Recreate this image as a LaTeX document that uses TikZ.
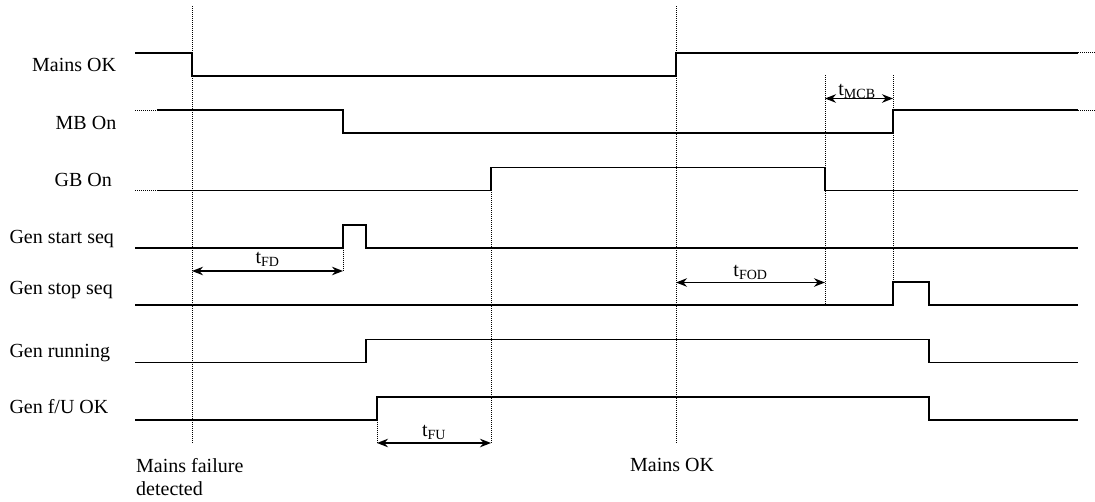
\documentclass[tikz,border=0pt]{standalone}
\usepackage{fontspec}
\setmainfont{Liberation Serif}
\usetikzlibrary{arrows.meta}

\tikzset{
  sig/.style={line width=1.6pt, line join=miter},
  tline/.style={line width=0.9pt, dash pattern=on 1pt off 1pt},
  dim/.style={{Stealth[length=11pt,width=8.5pt]}-{Stealth[length=11pt,width=8.5pt]}, line width=1.5pt},
  lbl/.style={anchor=base west, inner sep=0pt},
  tlbl/.style={inner sep=0pt, anchor=south},
}

\begin{document}
\begin{tikzpicture}[x=1pt,y=-1pt,font=\fontsize{20}{23}\selectfont]
\useasboundingbox (0,0) rectangle (1095,501);

% time markers
\draw [tline] (192,6) -- (192,443);
\draw [tline] (676,6) -- (676,443);
\draw [tline] (343,247.7) -- (343,271);
\draw [tline] (377,419.7) -- (377,443);
\draw [tline] (491,190.3) -- (491,443);
\draw [tline] (825,75) -- (825,305);
\draw [tline] (893,75) -- (893,282);

% signal names
\node [lbl] (mok) at (32,71) {Mains OK};
\node [lbl] (mb) at (55.5,129) {MB On};
\node [lbl] (gb) at (54.5,186) {GB On};
\node [lbl] (start) at (9.3,243) {Gen start seq};
\node [lbl] (stop) at (9.3,294) {Gen stop seq};
\node [lbl] (run) at (9.3,357) {Gen running};
\node [lbl] (fu) at (9.3,413.5) {Gen f/U OK};

% signals
\draw [sig] (135,52.7) -- (192,52.7) -- (192,75.7) -- (676,75.7) -- (676,52.7) -- (1078,52.7);
\draw [tline] (1078,52.7) -- (1095,52.7);
\draw [tline] (135,110) -- (157,110);
\draw [sig] (157,110) -- (343,110) -- (343,133) -- (893,133) -- (893,110) -- (1078,110);
\draw [tline] (1078,110) -- (1095,110);
\draw [tline] (135,190.3) -- (157,190.3);
\draw [sig] (157,190.3) -- (491,190.3) -- (491,167.3) -- (825,167.3) -- (825,190.3) -- (1078,190.3);
\draw [sig] (135,247.7) -- (343,247.7) -- (343,224.7) -- (366,224.7) -- (366,247.7) -- (1078,247.7);
\draw [sig] (135,305) -- (893,305) -- (893,282) -- (929,282) -- (929,305) -- (1078,305);
\draw [sig] (135,362.3) -- (366,362.3) -- (366,339.3) -- (929,339.3) -- (929,362.3) -- (1078,362.3);
\draw [sig] (135,419.7) -- (377,419.7) -- (377,396.7) -- (929,396.7) -- (929,419.7) -- (1078,419.7);

% delays
\coordinate (fd1) at (192,271);
\coordinate (fd2) at (343,271);
\coordinate (fod1) at (676,282.5);
\coordinate (fod2) at (825,282.5);
\coordinate (mcb1) at (825,98.5);
\coordinate (mcb2) at (893,98.5);
\coordinate (fu1) at (377,443);
\coordinate (fu2) at (491,443);
\draw [dim] (fd1) -- (fd2) node [tlbl, midway, yshift=4pt] (tfd) {t\textsubscript{FD}};
\draw [dim] (fod1) -- (fod2) node [tlbl, midway, yshift=2pt] (tfod) {t\textsubscript{FOD}};
\draw [dim] (mcb1) -- (mcb2) node [tlbl, midway, xshift=-2pt, yshift=-1pt] (tmcb) {t\textsubscript{MCB}};
\draw [dim] (fu1) -- (fu2) node [tlbl, midway, yshift=3pt] (tfu) {t\textsubscript{FU}};

% events
\node [lbl, align=left] (fail) at (136,495) {Mains failure\\detected};
\node [lbl] (ok) at (630,471) {Mains OK};
\end{tikzpicture}
\end{document}
